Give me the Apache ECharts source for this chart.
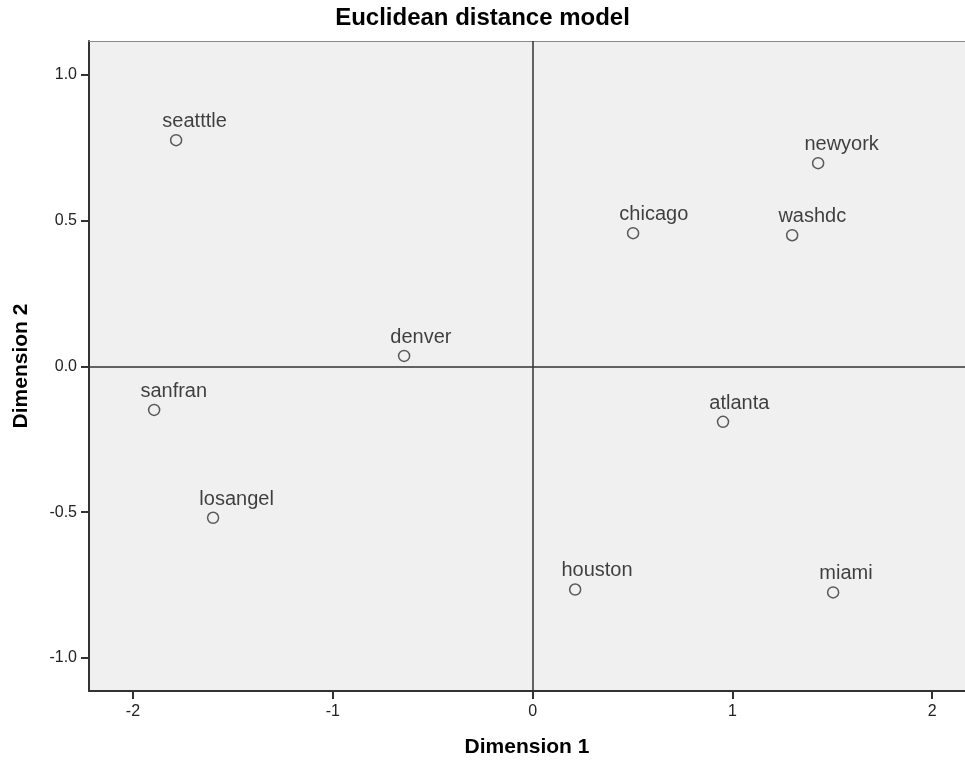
<!DOCTYPE html>
<html>
<head>
<meta charset="utf-8">
<script src="https://cdn.jsdelivr.net/npm/echarts@6/dist/echarts.min.js"></script>
<style>
html,body{margin:0;padding:0;background:#fff;overflow:hidden;}
#chart{width:965px;height:763px;}
</style>
</head>
<body>
<div id="chart"></div>
<script>
var cities = ['seatttle','newyork','chicago','washdc','denver','sanfran','atlanta','losangel','houston','miami'];
var dim1 = [-1.784, 1.429, 0.503, 1.299, -0.643, -1.894, 0.953, -1.599, 0.213, 1.504];
var dim2 = [0.776, 0.697, 0.457, 0.450, 0.036, -0.149, -0.190, -0.519, -0.765, -0.775];
var xTicks = [-2, -1, 0, 1, 2];
var yTicks = [-1.0, -0.5, 0.0, 0.5, 1.0];

var points = cities.map(function (c, i) { return { name: c, value: [dim1[i], dim2[i]] }; });
var font = '"Liberation Sans", Arial, sans-serif';
var X_MIN = -2.22, X_MAX = 2.164, Y_MIN = -1.113, Y_MAX = 1.116;

var chart = echarts.init(document.getElementById('chart'));
chart.setOption({
  animation: false,
  backgroundColor: '#ffffff',
  title: {
    text: 'Euclidean distance model',
    left: 'center',
    top: 1,
    textStyle: { fontFamily: font, fontSize: 24, fontWeight: 'bold', color: '#000' }
  },
  grid: {
    left: 89, top: 41, right: 0, bottom: 71,
    show: true, backgroundColor: '#f0f0f0', borderWidth: 0
  },
  xAxis: [{
    type: 'value', min: X_MIN, max: X_MAX,
    name: 'Dimension 1', nameLocation: 'middle', nameGap: 46,
    nameTextStyle: { fontFamily: font, fontSize: 21, fontWeight: 'bold', color: '#000' },
    axisLine: { show: true, onZero: false, lineStyle: { color: '#333', width: 2 } },
    axisTick: { show: true, length: 8, customValues: xTicks, lineStyle: { color: '#333', width: 2 } },
    axisLabel: { customValues: xTicks, margin: 13, fontFamily: font, fontSize: 16, color: '#222' },
    splitLine: { show: false }
  }, {
    type: 'value', position: 'top', min: X_MIN, max: X_MAX,
    axisLine: { show: true, onZero: false, lineStyle: { color: '#8a8a8a', width: 1 } },
    axisTick: { show: false }, axisLabel: { show: false }, splitLine: { show: false }
  }],
  yAxis: {
    type: 'value', min: Y_MIN, max: Y_MAX,
    name: 'Dimension 2', nameLocation: 'middle', nameGap: 57,
    nameTextStyle: { fontFamily: font, fontSize: 21, fontWeight: 'bold', color: '#000' },
    axisLine: { show: true, onZero: false, lineStyle: { color: '#333', width: 2 } },
    axisTick: { show: true, length: 8, customValues: yTicks, lineStyle: { color: '#333', width: 2 } },
    axisLabel: { customValues: yTicks, margin: 12, fontFamily: font, fontSize: 16, color: '#222',
      formatter: function (v) { return v.toFixed(1); } },
    splitLine: { show: false }
  },
  series: [{
    type: 'scatter',
    data: points,
    symbol: 'circle',
    symbolSize: 11,
    itemStyle: { color: '#f0f0f0', borderColor: '#333', borderWidth: 1.5 },
    label: {
      show: true,
      position: [-7.5, -12.5],
      align: 'left',
      verticalAlign: 'middle',
      formatter: '{b}',
      fontFamily: font, fontSize: 20, color: '#111'
    },
    markLine: {
      silent: true,
      symbol: ['none', 'none'],
      label: { show: false },
      lineStyle: { color: '#333', width: 1.5, type: 'solid' },
      data: [{ xAxis: 0 }, { yAxis: 0 }]
    }
  }]
});
</script>
</body>
</html>
